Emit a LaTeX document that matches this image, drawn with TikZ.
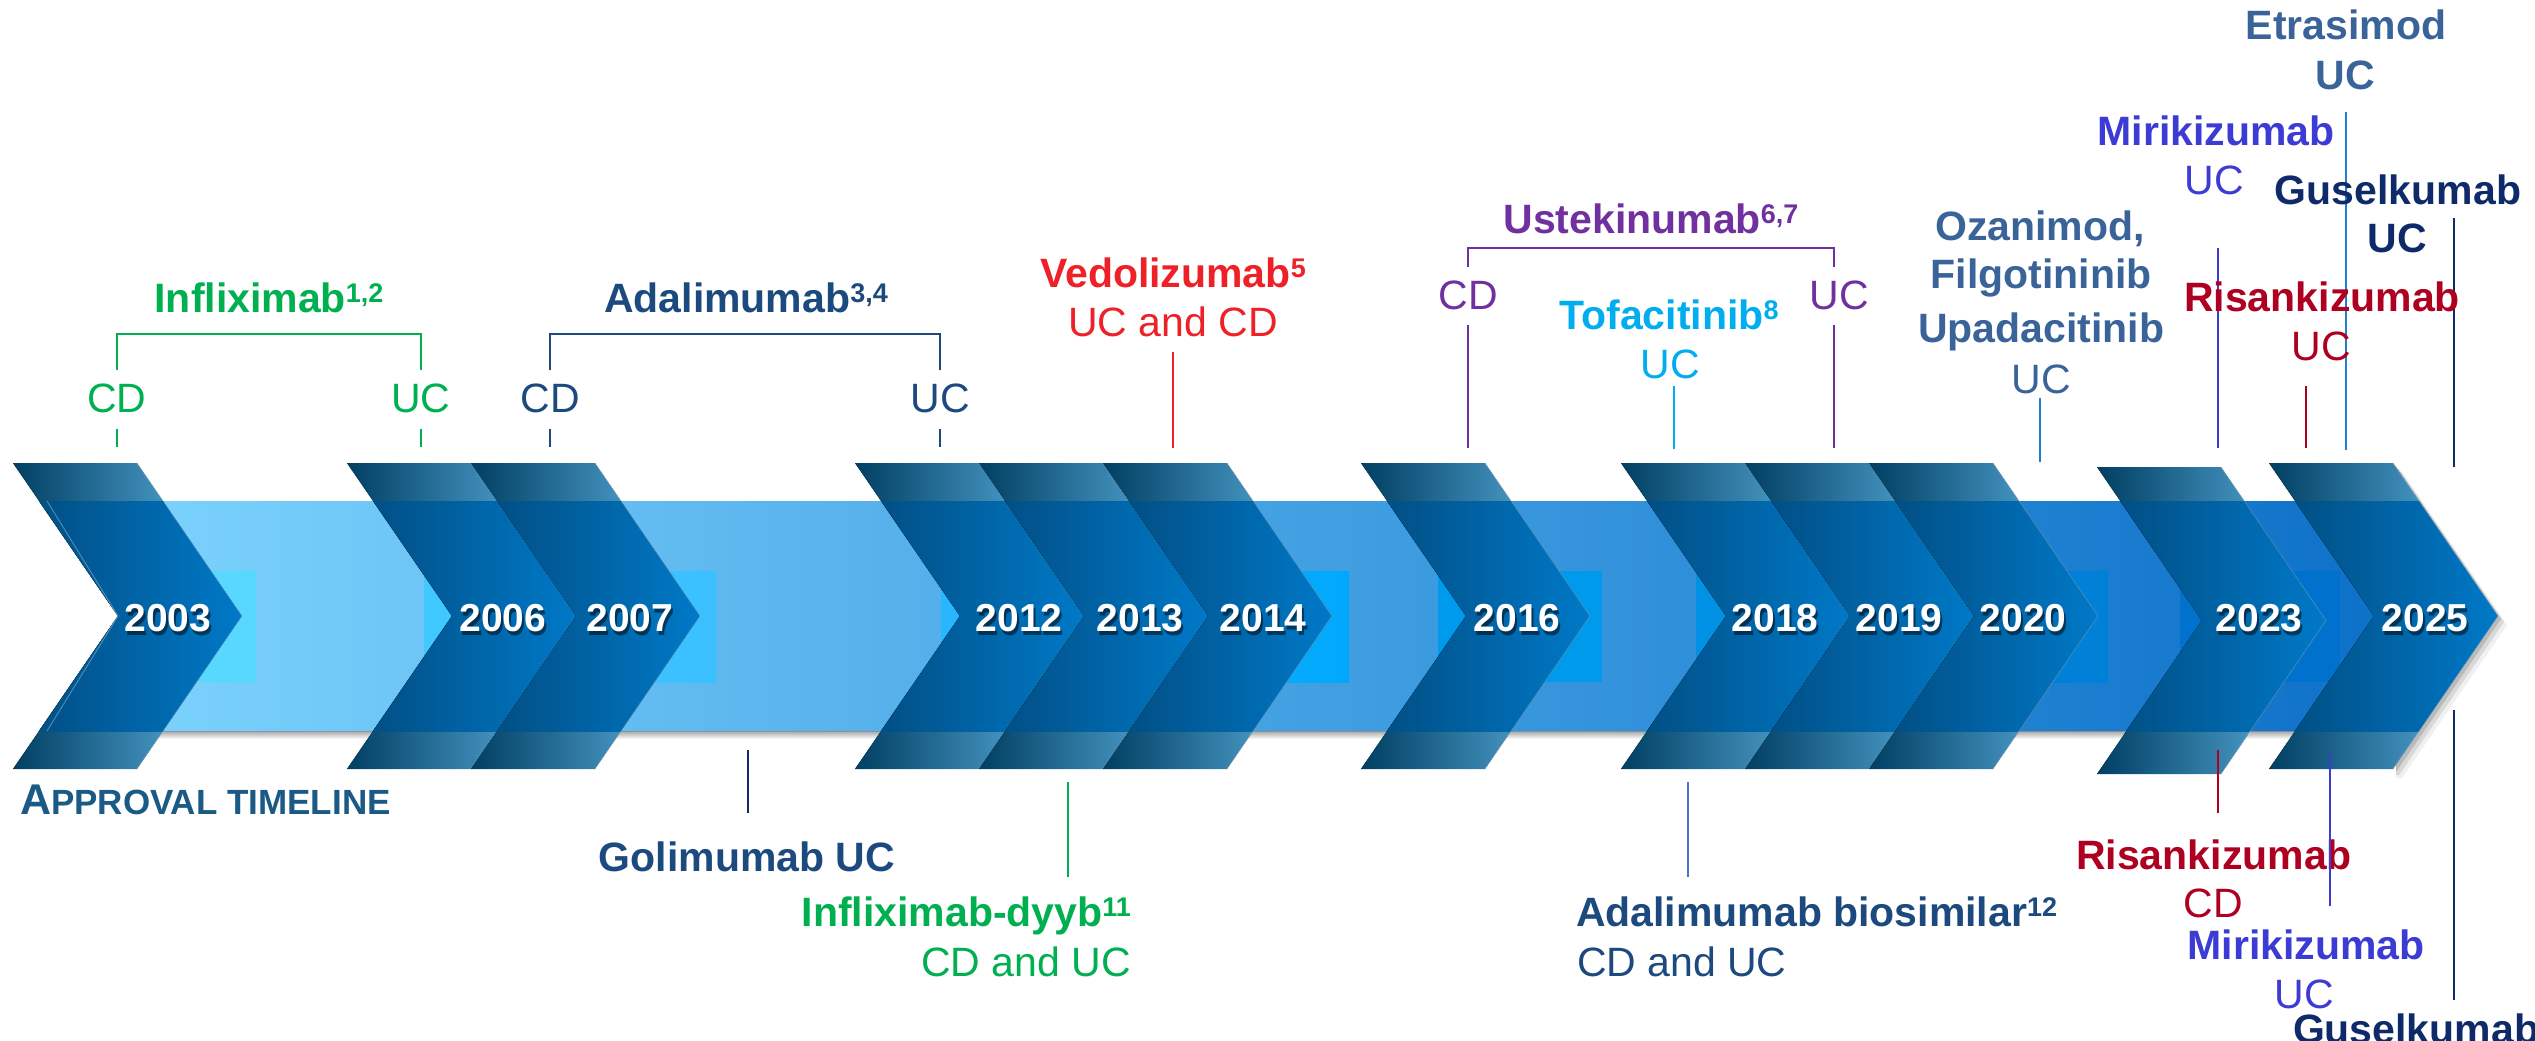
\documentclass[tikz,border=0pt]{standalone}
\usepackage{fontspec}
\setmainfont{Liberation Sans}
\definecolor{cGreen}{HTML}{00B050}
\definecolor{cNavy}{HTML}{1D4A7E}
\definecolor{cRed}{HTML}{EE2128}
\definecolor{cPurple}{HTML}{7030A0}
\definecolor{cCyan}{HTML}{00AEEF}
\definecolor{cSteel}{HTML}{3A6399}
\definecolor{cViolet}{HTML}{3C3CD4}
\definecolor{cDeep}{HTML}{0E2A68}
\definecolor{cCrimson}{HTML}{AE0020}
\definecolor{cTeal}{HTML}{1A5A85}
\definecolor{cLineBlue}{HTML}{1F7FCC}
\definecolor{cBioLine}{HTML}{4A74C8}
\definecolor{chOutL}{HTML}{013F63}
\definecolor{chOutM}{HTML}{0A6590}
\definecolor{chOutR}{HTML}{4392BE}
\definecolor{chInL}{HTML}{014A7D}
\definecolor{chInR}{HTML}{0079C8}
\definecolor{bandL}{HTML}{80D6FF}
\definecolor{bandM}{HTML}{4DAAF2}
\definecolor{bandR}{HTML}{0C70C8}
\definecolor{inA}{HTML}{58D8FF}
\definecolor{inB1}{HTML}{40C8FF}
\definecolor{inB2}{HTML}{3AC0FF}
\definecolor{inC1}{HTML}{28B6FF}
\definecolor{inC2}{HTML}{00A8FC}
\definecolor{inD}{HTML}{009AEC}
\definecolor{inE1}{HTML}{0092E4}
\definecolor{inE2}{HTML}{007FD6}
\definecolor{inF}{HTML}{0072CE}
\newcommand\supnum[1]{\raisebox{10pt}{\fontsize{27}{27}\selectfont #1}}
% one year chevron: name, left x, top y, bottom y, label centre x, label
\newcommand\chev[6]{%
  \pgfmathsetmacro\chmid{(#3+#4)/2}
  \begin{scope}
    \clip (#2,#3) -- (#2+124,#3) -- (#2+229,\chmid) -- (#2+124,#4) -- (#2,#4) -- (#2+105,\chmid) -- cycle;
    \fill[left color=chOutL, middle color=chOutM, right color=chOutR] (#2,#3) rectangle (#2+152,#4);
    \fill[left color=chInL, right color=chInR] (#2,501) rectangle (#2+229,731);
  \end{scope}
  \draw[chedge] (#2+124,#3) -- (#2+229,\chmid) -- (#2+124,#4);
  \node[yrshadow] (#1s) at (#5+2,635) {#6};
  \node[yr] (#1) at (#5,631) {#6};
}
\begin{document}
\begin{tikzpicture}[x=1pt,y=-1pt,
  every node/.style={inner sep=0pt, outer sep=0pt},
  drug/.style={font=\fontsize{41}{41}\selectfont\bfseries, anchor=base},
  ind/.style={font=\fontsize{41}{41}\selectfont, anchor=base},
  yr/.style={font=\fontsize{39}{39}\selectfont\bfseries, text=white, anchor=base},
  yrshadow/.style={yr, text=black, opacity=0.5},
  tick/.style={line width=2.4pt},
  chedge/.style={draw=white, opacity=0.25, line width=0.8pt}]
\useasboundingbox (0,0) rectangle (2535,1041);
\clip (0,0) rectangle (2535,1041);

% timeline band, its left end notched like the first chevron
\fill[top color=black!35, bottom color=white] (60,731) rectangle (2410,739);
\fill[left color=bandL, middle color=bandM, right color=bandR]
  (39,501) -- (2410,501) -- (2410,731) -- (39,731) -- (118,616) -- cycle;
\fill[inA] (120,571) rectangle (256,682);
\fill[left color=inB1, right color=inB2] (424,571) rectangle (716,682);
\fill[left color=inC1, right color=inC2] (941,571) rectangle (1349,682);
\fill[inD] (1438,571) rectangle (1602,682);
\fill[left color=inE1, right color=inE2] (1696,571) rectangle (2108,682);
\fill[inF] (2180,571) rectangle (2340,682);

% year chevrons
\chev{y2003}{13}{463}{769}{168}{2003}
\draw[white, opacity=0.3, line width=1pt] (47,501) -- (118,616) -- (47,731);
\chev{y2006}{347}{463}{769}{503}{2006}
\chev{y2007}{471}{463}{769}{630}{2007}
\chev{y2012}{855}{463}{769}{1019}{2012}
\chev{y2013}{979}{463}{769}{1140}{2013}
\chev{y2014}{1103}{463}{769}{1263}{2014}
\chev{y2016}{1361}{463}{769}{1517}{2016}
\chev{y2018}{1621}{463}{769}{1775}{2018}
\chev{y2019}{1745}{463}{769}{1899}{2019}
\chev{y2020}{1869}{463}{769}{2023}{2020}
\chev{y2023}{2097}{467}{774}{2259}{2023}
\begin{scope}
  \clip (2396,440) rectangle (2535,800);
  \foreach \o/\op in {9/0.06,6/0.1,3/0.14}
    \fill[black, opacity=\op] (2269+\o,463+\o) -- (2393+\o,463+\o) -- (2498+\o,616+\o) -- (2393+\o,769+\o) -- (2269+\o,769+\o) -- cycle;
\end{scope}
\chev{y2025}{2269}{463}{769}{2425}{2025}

% approvals above the timeline
\node[drug, text=cGreen] (ifx) at (269,312) {Infliximab\supnum{1,2}};
\node[ind, text=cGreen] (ifxcd) at (117,412) {CD};
\node[ind, text=cGreen] (ifxuc) at (421,412) {UC};
\coordinate (ifxL) at (117,370); \coordinate (ifxR) at (421,370);
\draw[tick, cGreen] (ifxL) -- ++(0,-36) -| (ifxR);
\coordinate (ifxa) at (117,429); \coordinate (ifxb) at (117,447);
\coordinate (ifxc) at (421,429); \coordinate (ifxd) at (421,447);
\draw[tick, cGreen] (ifxa) -- (ifxb) (ifxc) -- (ifxd);

\node[drug, text=cNavy] (ada) at (746,312) {Adalimumab\supnum{3,4}};
\node[ind, text=cNavy] (adacd) at (550,412) {CD};
\node[ind, text=cNavy] (adauc) at (940,412) {UC};
\coordinate (adaL) at (550,370); \coordinate (adaR) at (940,370);
\draw[tick, cNavy] (adaL) -- ++(0,-36) -| (adaR);
\coordinate (adaa) at (550,429); \coordinate (adab) at (550,447);
\coordinate (adac) at (940,429); \coordinate (adad) at (940,447);
\draw[tick, cNavy] (adaa) -- (adab) (adac) -- (adad);

\node[drug, text=cRed] (ved) at (1173,287) {Vedolizumab\supnum{5}};
\node[ind, text=cRed] (vedsub) at (1173,336) {UC and CD};
\coordinate (veda) at (1173,352); \coordinate (vedb) at (1173,448);
\draw[tick, cRed] (veda) -- (vedb);

\node[drug, text=cPurple] (ust) at (1651,233) {Ustekinumab\supnum{6,7}};
\node[ind, text=cPurple] (ustcd) at (1468,309) {CD};
\node[ind, text=cPurple] (ustuc) at (1839,309) {UC};
\coordinate (ustL) at (1468,267); \coordinate (ustR) at (1834,267);
\draw[tick, cPurple] (ustL) -- ++(0,-19) -| (ustR);
\coordinate (usta) at (1468,325); \coordinate (ustb) at (1468,448);
\coordinate (ustc) at (1834,325); \coordinate (ustd) at (1834,448);
\draw[tick, cPurple] (usta) -- (ustb) (ustc) -- (ustd);

\node[drug, text=cCyan] (tof) at (1669,329) {Tofacitinib\supnum{8}};
\node[ind, text=cCyan] (tofuc) at (1670,378) {UC};
\coordinate (tofa) at (1674,386); \coordinate (tofb) at (1674,449);
\draw[tick, cCyan] (tofa) -- (tofb);

\node[drug, text=cSteel] (oza1) at (2040,240) {Ozanimod,};
\node[drug, text=cSteel] (oza2) at (2041,288) {Filgotininib};
\node[drug, text=cSteel] (oza3) at (2041,342) {Upadacitinib};
\node[ind, text=cSteel] (ozauc) at (2041,393) {UC};
\coordinate (ozaa) at (2040,398); \coordinate (ozab) at (2040,462);
\draw[tick, cLineBlue] (ozaa) -- (ozab);

\node[drug, text=cViolet] (mir) at (2216,145) {Mirikizumab};
\node[ind, text=cViolet] (miruc) at (2214,194) {UC};
\coordinate (mira) at (2218,248); \coordinate (mirb) at (2218,448);
\draw[tick, cViolet] (mira) -- (mirb);

\node[drug, text=cSteel] (etr) at (2346,40) {Etrasimod};
\node[drug, text=cSteel] (etruc) at (2345,89) {UC};
\coordinate (etra) at (2346,112); \coordinate (etrb) at (2346,450);
\draw[tick, cLineBlue] (etra) -- (etrb);

\node[drug, text=cDeep] (gus) at (2398,204) {Guselkumab};
\node[drug, text=cDeep] (gusuc) at (2397,252) {UC};
\coordinate (gusa) at (2454,218); \coordinate (gusb) at (2454,467);
\draw[tick, cDeep] (gusa) -- (gusb);

\node[drug, text=cCrimson] (ris) at (2322,311) {Risankizumab};
\node[ind, text=cCrimson] (risuc) at (2321,360) {UC};
\coordinate (risa) at (2306,386); \coordinate (risb) at (2306,448);
\draw[tick, cCrimson] (risa) -- (risb);

% approvals below the timeline
\node[font=\bfseries, text=cTeal, anchor=base west] (approval) at (20,814)
  {\fontsize{43}{43}\selectfont A\fontsize{35}{35}\selectfont PPROVAL TIMELINE};

\node[drug, text=cNavy] (gol) at (747,871) {Golimumab UC};
\coordinate (gola) at (748,750); \coordinate (golb) at (748,813);
\draw[tick, cDeep] (gola) -- (golb);

\node[drug, text=cGreen, anchor=base east] (ifd) at (1131,926) {Infliximab-dyyb\supnum{11}};
\node[ind, text=cGreen, anchor=base east] (ifdsub) at (1131,976) {CD and UC};
\coordinate (ifda) at (1068,782); \coordinate (ifdb) at (1068,877);
\draw[tick, cGreen] (ifda) -- (ifdb);

\node[drug, text=cNavy, anchor=base west] (bio) at (1576,926) {Adalimumab biosimilar\supnum{12}};
\node[ind, text=cNavy, anchor=base west] (biosub) at (1577,976) {CD and UC};
\coordinate (bioa) at (1688,782); \coordinate (biob) at (1688,877);
\draw[tick, cBioLine] (bioa) -- (biob);

\node[drug, text=cCrimson] (risd) at (2214,869) {Risankizumab};
\node[ind, text=cCrimson] (risdcd) at (2213,917) {CD};
\coordinate (risda) at (2218,750); \coordinate (risdb) at (2218,813);
\draw[tick, cCrimson] (risda) -- (risdb);

\node[drug, text=cViolet] (mird) at (2306,959) {Mirikizumab};
\node[ind, text=cViolet] (mirduc) at (2304,1008) {UC};
\coordinate (mirda) at (2330,754); \coordinate (mirdb) at (2330,906);
\draw[tick, cViolet] (mirda) -- (mirdb);

\coordinate (gusda) at (2454,710); \coordinate (gusdb) at (2454,1000);
\draw[tick, cDeep] (gusda) -- (gusdb);
\node[drug, text=cDeep, anchor=base west] (gusd) at (2293,1043) {Guselkumab};
\end{tikzpicture}
\end{document}
